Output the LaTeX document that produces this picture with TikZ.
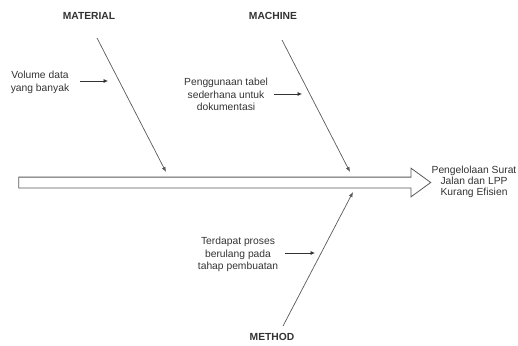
\documentclass[tikz,border=0pt]{standalone}
\usepackage{fontspec}
\setmainfont{Liberation Sans}
\usetikzlibrary{shapes.arrows,arrows.meta}

\begin{document}
\begin{tikzpicture}[x=1pt, y=-1pt,
    every node/.style={text=black!80, font=\fontsize{10.3}{12.5}\selectfont},
    category/.style={font=\fontsize{10.3}{12}\selectfont\bfseries},
    cause/.style={align=center, inner sep=1pt},
    bone/.style={draw=black!65, line width=0.7pt, -{Latex[length=5pt,width=4pt]}},
    pointer/.style={draw=black!80, line width=0.7pt, -{Latex[length=4.5pt,width=4pt]}}]
            \useasboundingbox (0,0) rectangle (518,345);

            % spine
            \node[single arrow, draw=black!65, line width=0.8pt, inner xsep=0pt, inner ysep=5pt,
                  minimum height=412pt, single arrow head extend=9pt,
                  single arrow tip angle=72] (spine) at (221,182.5) {};
            \node[align=center, font=\fontsize{10.3}{10.8}\selectfont] (effect) at (474,182) {Pengelolaan Surat\\Jalan dan LPP\\Kurang Efisien};

            % material
            \node[category] (material) at (89,16) {MATERIAL};
            \coordinate (matTop) at (97,38);
            \coordinate (matTip) at (166,172);
            \draw[bone] (matTop) -- (matTip);
            \node[cause] (volume) at (40,82.5) {Volume data\\yang banyak};
            \coordinate (volumeEnd) at (108,81);
            \draw[pointer] (volume.east |- volumeEnd) ++(10,0) -- (volumeEnd);

            % machine
            \node[category] (machine) at (273,16) {MACHINE};
            \coordinate (macTop) at (282,40);
            \coordinate (macTip) at (350,172);
            \draw[bone] (macTop) -- (macTip);
            \node[cause] (tabel) at (226,94.5) {Penggunaan tabel\\sederhana untuk\\dokumentasi};
            \coordinate (tabelEnd) at (302,94);
            \draw[pointer] (tabel.east |- tabelEnd) ++(5,0) -- (tabelEnd);

            % method
            \node[category] (method) at (272,337) {METHOD};
            \coordinate (metBottom) at (283,326);
            \coordinate (metTip) at (353,192);
            \draw[bone] (metBottom) -- (metTip);
            \node[cause] (proses) at (238,254.5) {Terdapat proses\\berulang pada\\tahap pembuatan};
            \coordinate (prosesEnd) at (315,253);
            \draw[pointer] (proses.east |- prosesEnd) ++(6,0) -- (prosesEnd);

        \end{tikzpicture}
\end{document}
